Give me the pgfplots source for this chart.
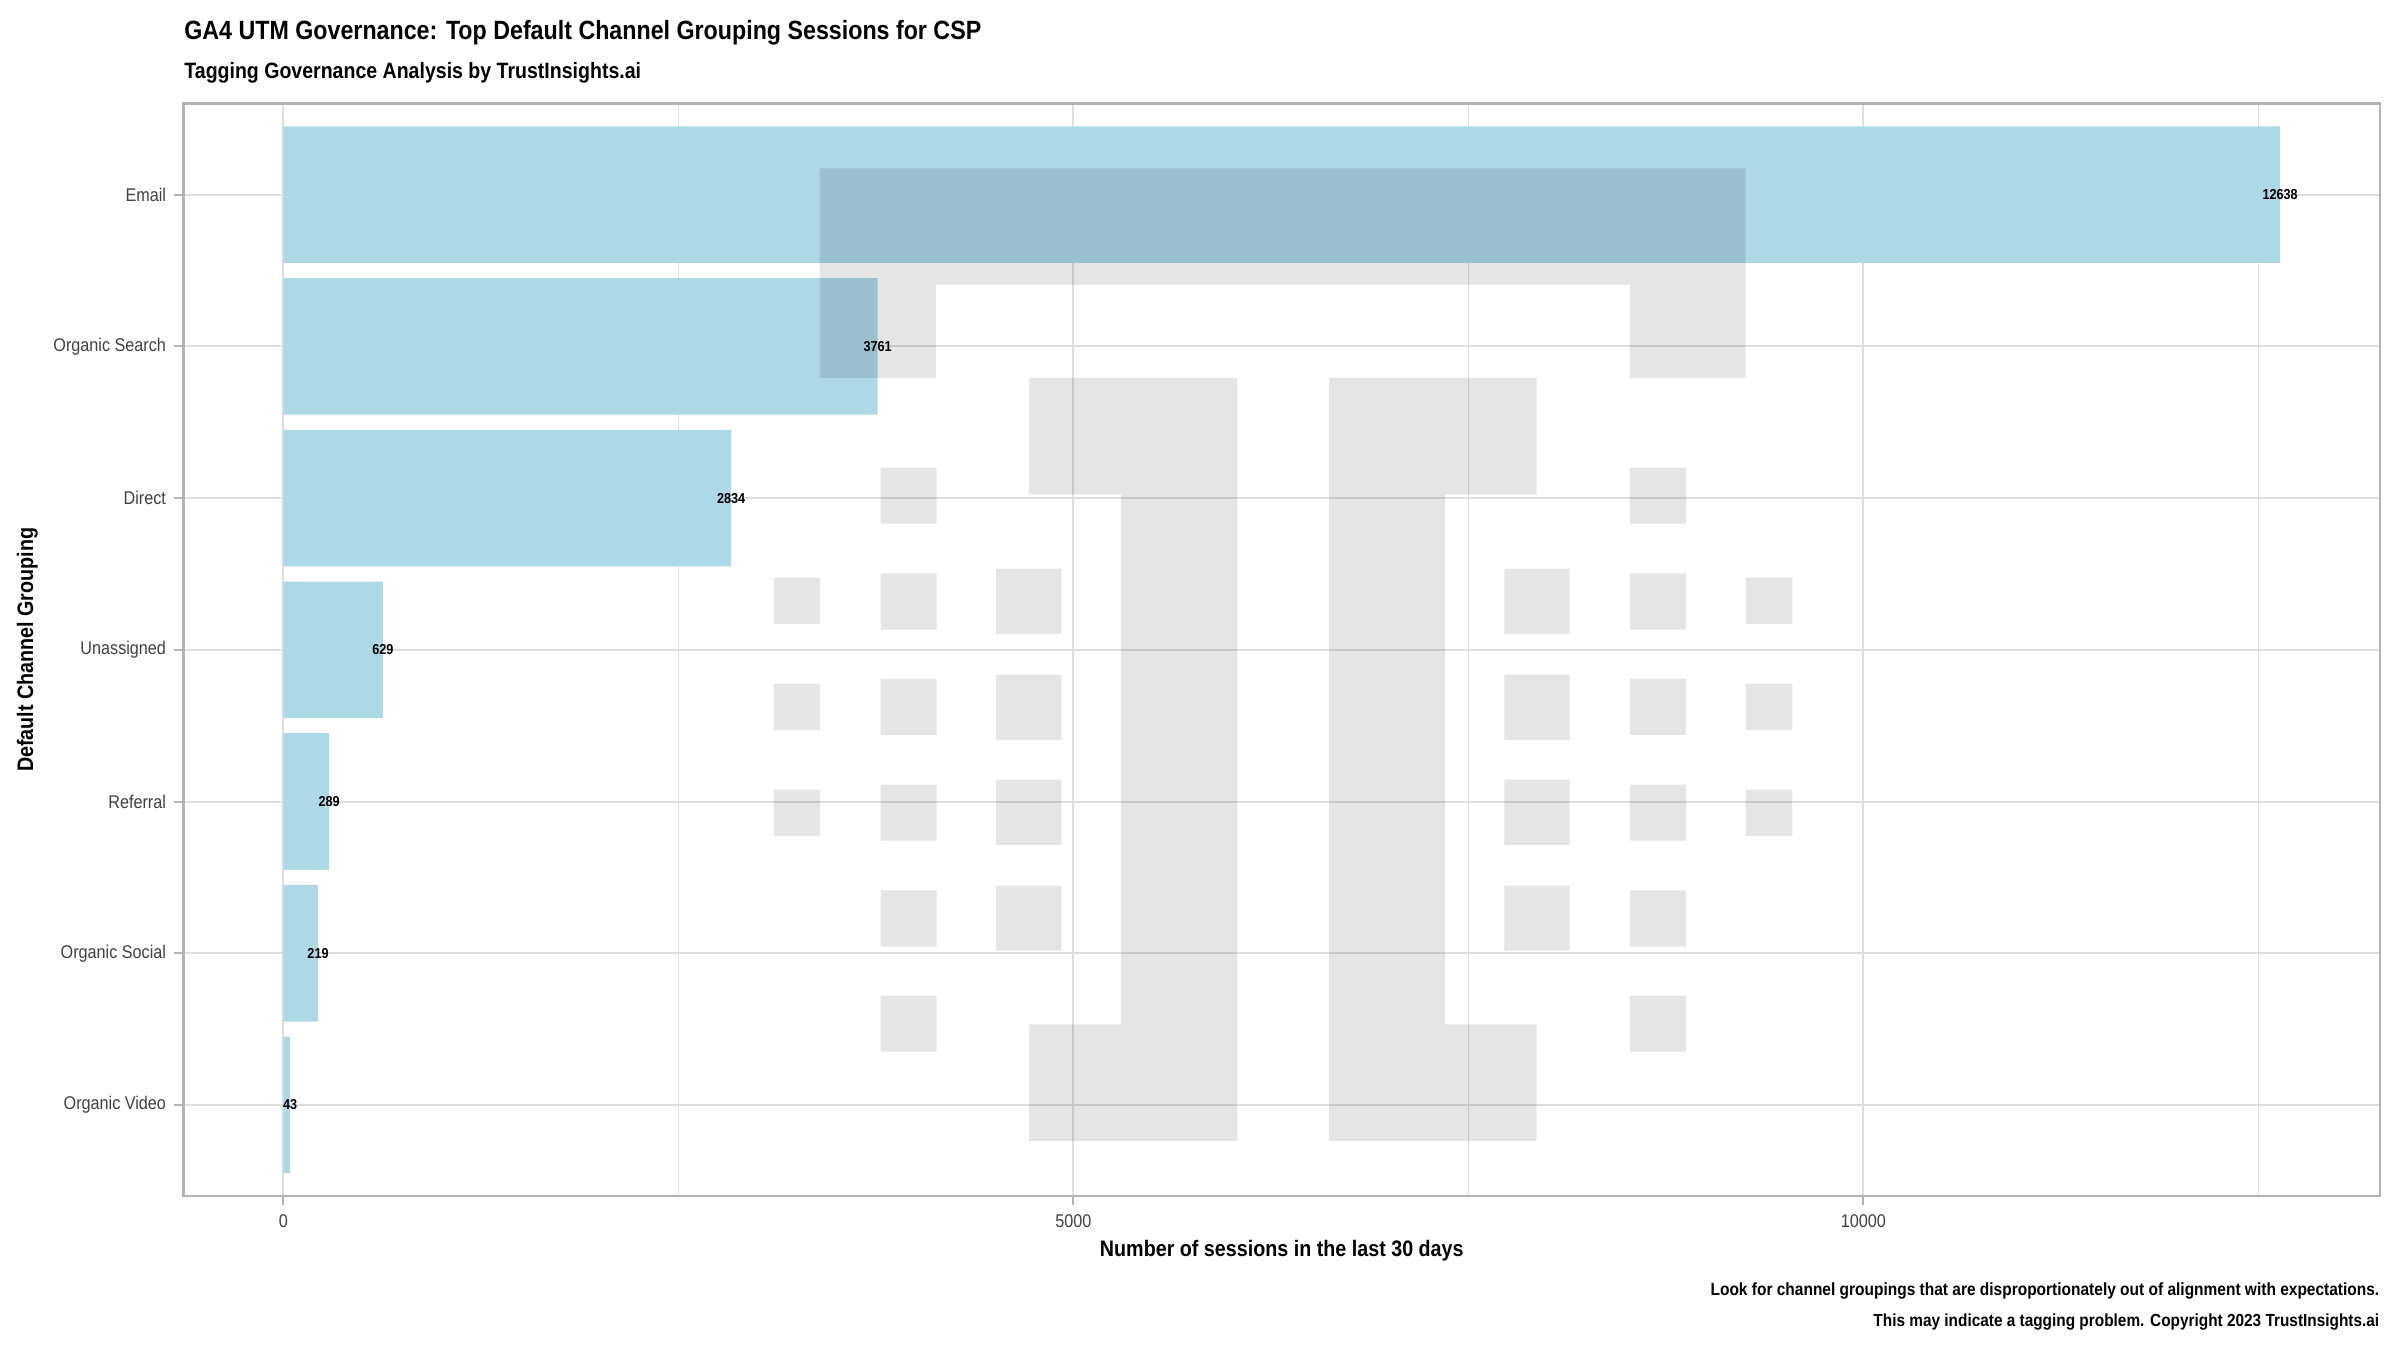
\documentclass[border=0pt]{standalone}
\usepackage{fontspec}
\setmainfont{Liberation Sans}[FakeStretch=0.88]
\usepackage{pgfplots}
\pgfplotsset{compat=1.18}
\definecolor{barblue}{HTML}{ADD8E6}
\definecolor{gridc}{HTML}{DEDEDE}
\definecolor{borderc}{HTML}{B3B3B3}
\definecolor{axtext}{HTML}{404040}
\newcommand{\fs}[1]{\fontsize{#1}{#1}\selectfont}
\begin{document}
\begin{tikzpicture}
\path[use as bounding box] (-45.9pt,-38.5pt) rectangle (554.1pt,299pt);
\begin{axis}[
  at={(0,0)}, anchor=south west,
  width=549.1pt, height=273.1pt, scale only axis,
  xmin=-632, xmax=13270, ymin=0.4, ymax=7.6,
  xtick={0,5000,10000}, minor xtick={2500,7500,12500},
  ytick={1,2,3,4,5,6,7},
  yticklabels={Organic Video, Organic Social, Referral, Unassigned, Direct, Organic Search, Email},
  scaled x ticks=false,
  /pgf/number format/1000 sep={},
  /pgf/number format/assume math mode=true,
  xmajorgrids, xminorgrids, ymajorgrids,
  major grid style={gridc, line width=0.5pt},
  minor grid style={gridc, line width=0.3pt},
  axis line style={borderc, line width=0.6pt},
  tick align=outside,
  major tick length=2.3pt,
  minor tick length=0pt,
  tick style={borderc, line width=0.5pt},
  xtick pos=bottom, ytick pos=left,
  ticklabel style={font=\fs{4.6}, text=axtext},
  xticklabel style={anchor=base, inner sep=0pt, yshift=-5.6pt},
  yticklabel style={anchor=east, inner sep=0pt, xshift=-1.9pt},
]
\addplot[xbar, bar width=0.9, fill=barblue, draw=none] coordinates {
  (43,1) (219,2) (289,3) (629,4) (2834,5) (3761,6) (12638,7)};
% watermark logo (decoration)
\fill[black, opacity=0.1]
  (3393,7.1736) rectangle (9254,6.4065)
  (3393,6.4065) rectangle (4129,5.7918)
  (8522,6.4065) rectangle (9254,5.7918)
  (4719,5.792) rectangle (6037,5.025)
  (5301,5.025) rectangle (6037,1.531)
  (4719,1.531) rectangle (6037,0.764)
  (6618,5.792) rectangle (7932,5.025)
  (6618,5.025) rectangle (7351,1.531)
  (6618,1.531) rectangle (7932,0.764)
  (3104,4.475) rectangle (3397,4.170)
  (3104,3.777) rectangle (3397,3.472)
  (3104,3.079) rectangle (3397,2.774)
  (9254,4.475) rectangle (9551,4.170)
  (9254,3.777) rectangle (9551,3.472)
  (9254,3.079) rectangle (9551,2.774)
  (3779,5.200) rectangle (4134,4.831)
  (3779,4.503) rectangle (4134,4.133)
  (3779,3.810) rectangle (4134,3.439)
  (3779,3.111) rectangle (4134,2.742)
  (3779,2.414) rectangle (4134,2.044)
  (3779,1.721) rectangle (4134,1.351)
  (8522,5.200) rectangle (8877,4.831)
  (8522,4.503) rectangle (8877,4.133)
  (8522,3.810) rectangle (8877,3.439)
  (8522,3.111) rectangle (8877,2.742)
  (8522,2.414) rectangle (8877,2.044)
  (8522,1.721) rectangle (8877,1.351)
  (4511,4.535) rectangle (4924,4.105)
  (4511,3.837) rectangle (4924,3.407)
  (4511,3.144) rectangle (4924,2.714)
  (4511,2.446) rectangle (4924,2.017)
  (7728,4.535) rectangle (8141,4.105)
  (7728,3.837) rectangle (8141,3.407)
  (7728,3.144) rectangle (8141,2.714)
  (7728,2.446) rectangle (8141,2.017);
\addplot[draw=none, nodes near coords, point meta=x,
  every node near coord/.style={font=\bfseries\fs{3.6}, text=black, inner sep=0pt, anchor=center}]
  coordinates {(43,1) (219,2) (289,3) (629,4) (2834,5) (3761,6) (12638,7)};
\end{axis}
\node[anchor=base west, inner sep=0pt, font=\bfseries\fs{6.6}] at (0,289.2pt) {GA4 UTM Governance: Top Default Channel Grouping Sessions for CSP};
\node[anchor=base west, inner sep=0pt, font=\bfseries\fs{5.55}] at (0,279.25pt) {Tagging Governance Analysis by TrustInsights.ai};
\node[anchor=base, inner sep=0pt, font=\bfseries\fs{5.6}] at (274.55pt,-15pt) {Number of sessions in the last 30 days};
\node[anchor=base, rotate=90, inner sep=0pt, font=\bfseries\fs{5.6}] at (-37.6pt,136.55pt) {Default Channel Grouping};
\node[anchor=base east, inner sep=0pt, font=\bfseries\fs{4.4}] at (549.1pt,-24.75pt) {Look for channel groupings that are disproportionately out of alignment with expectations.};
\node[anchor=base east, inner sep=0pt, font=\bfseries\fs{4.37}] at (549.1pt,-32.6pt) {This may indicate a tagging problem. Copyright 2023 TrustInsights.ai};
\end{tikzpicture}
\end{document}
